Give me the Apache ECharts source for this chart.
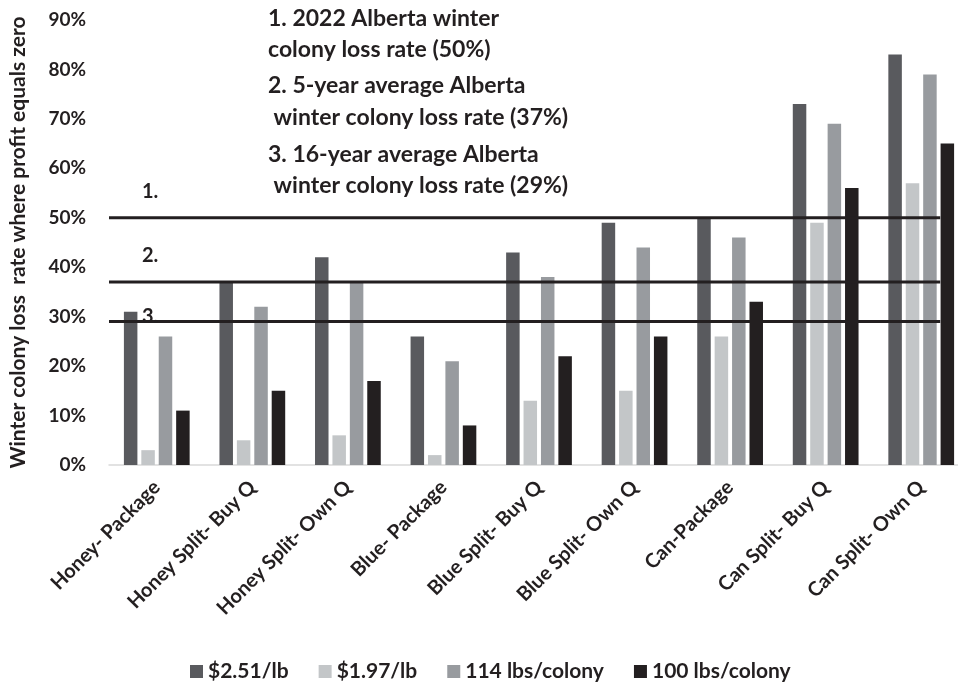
<!DOCTYPE html>
<html>
<head>
<meta charset="utf-8">
<script src="https://cdn.jsdelivr.net/npm/echarts@6/dist/echarts.min.js"></script>
<style>
  html, body { margin: 0; padding: 0; background: #fff; overflow: hidden; }
  #chart { width: 972px; height: 683px; }
</style>
</head>
<body>
<div id="chart"></div>
<script>
// Break-even winter colony loss rates by operation type and scenario
const categories = [
  'Honey- Package', 'Honey Split- Buy Q', 'Honey Split- Own Q',
  'Blue- Package', 'Blue Split- Buy Q', 'Blue Split- Own Q',
  'Can-Package', 'Can Split- Buy Q', 'Can Split- Own Q'
];
const seriesNames = ['$2.51/lb', '$1.97/lb', '114 lbs/colony', '100 lbs/colony'];
const price251 = [31, 37, 42, 26, 43, 49, 50, 73, 83];
const price197 = [3, 5, 6, 2, 13, 15, 26, 49, 57];
const yield114 = [26, 32, 37, 21, 38, 44, 46, 69, 79];
const yield100 = [11, 15, 17, 8, 22, 26, 33, 56, 65];
const yTicks = [0, 10, 20, 30, 40, 50, 60, 70, 80, 90];

// Alberta winter colony loss benchmarks
const benchmarkLabels = ['1.', '2.', '3.'];
const benchmarkValues = [50, 37, 29];
const noteLines = [
  '1. 2022 Alberta winter',
  'colony loss rate (50%)',
  '2. 5-year average Alberta',
  ' winter colony loss rate (37%)',
  '3. 16-year average Alberta',
  ' winter colony loss rate (29%)'
];

const colors = ['#595a5e', '#c3c6c8', '#989b9f', '#231f20'];
const FONT = 'Lato';
const TEXT = '#231f20';

const chart = echarts.init(document.getElementById('chart'));

const seriesData = [price251, price197, yield114, yield100];

chart.setOption({
  animation: false,
  backgroundColor: '#ffffff',
  textStyle: { fontFamily: FONT },
  grid: { left: 108, top: 20, width: 861, height: 445 },
  legend: {
    top: 656,
    left: 185,
    itemWidth: 13,
    itemHeight: 13,
    itemGap: 30,
    icon: 'rect',
    textStyle: { fontFamily: FONT, fontWeight: 'bold', fontSize: 21, color: TEXT, padding: [0, 0, 0, 0] },
    data: seriesNames
  },
  xAxis: {
    type: 'category',
    data: categories,
    axisLine: { show: true, lineStyle: { color: '#d9d9d9', width: 1.5 } },
    axisTick: { show: false },
    axisLabel: {
      rotate: 45,
      interval: 0,
      margin: 19,
      fontFamily: FONT,
      fontWeight: 'bold',
      fontSize: 20,
      color: TEXT
    }
  },
  yAxis: {
    type: 'value',
    min: yTicks[0],
    max: yTicks[yTicks.length - 1],
    interval: 10,
    name: 'Winter colony loss  rate where profit equals zero',
    nameLocation: 'middle',
    nameRotate: 90,
    nameGap: 80,
    nameTextStyle: { fontFamily: FONT, fontWeight: 'bold', fontSize: 21, color: TEXT, padding: [0, 0, 0, 0] },
    splitLine: { show: false },
    axisLine: { show: false },
    axisTick: { show: false },
    axisLabel: {
      margin: 23,
      formatter: '{value}%',
      fontFamily: FONT,
      fontWeight: 'bold',
      fontSize: 19,
      color: TEXT
    }
  },
  series: seriesData.map((d, i) => ({
    name: seriesNames[i],
    type: 'bar',
    data: d,
    barWidth: 13.5,
    barGap: '29%',
    itemStyle: { color: colors[i] }
  }))
});

// Benchmark lines and annotation text, placed through the chart's scales
function drawOverlays() {
  const band = (chart.convertToPixel({ xAxisIndex: 0 }, categories[8]) -
                chart.convertToPixel({ xAxisIndex: 0 }, categories[0])) / 8;
  const x0 = chart.convertToPixel({ xAxisIndex: 0 }, categories[0]) - band / 2;
  const x1 = chart.convertToPixel({ xAxisIndex: 0 }, categories[8]) + 19;
  const labelOffsets = [26, 27, 5];
  const graphics = [];
  benchmarkValues.forEach((v, i) => {
    const y = chart.convertToPixel({ yAxisIndex: 0 }, v);
    graphics.push({
      type: 'line',
      shape: { x1: x0, y1: y, x2: x1, y2: y },
      style: { stroke: TEXT, lineWidth: 3 },
      z: 10
    });
    graphics.push({
      type: 'text',
      x: x0 + 33,
      y: y - labelOffsets[i],
      style: {
        text: benchmarkLabels[i],
        fill: TEXT,
        font: 'bold 20px ' + FONT,
        textVerticalAlign: 'middle'
      },
      z: 11
    });
  });
  const noteY = [19, 50, 86, 118, 155, 186];
  noteLines.forEach((t, i) => {
    graphics.push({
      type: 'text',
      x: 268,
      y: noteY[i],
      style: {
        text: t,
        fill: TEXT,
        font: 'bold 23px ' + FONT,
        textVerticalAlign: 'middle'
      },
      z: 11
    });
  });
  chart.setOption({ graphic: graphics });
}
drawOverlays();
</script>
</body>
</html>
